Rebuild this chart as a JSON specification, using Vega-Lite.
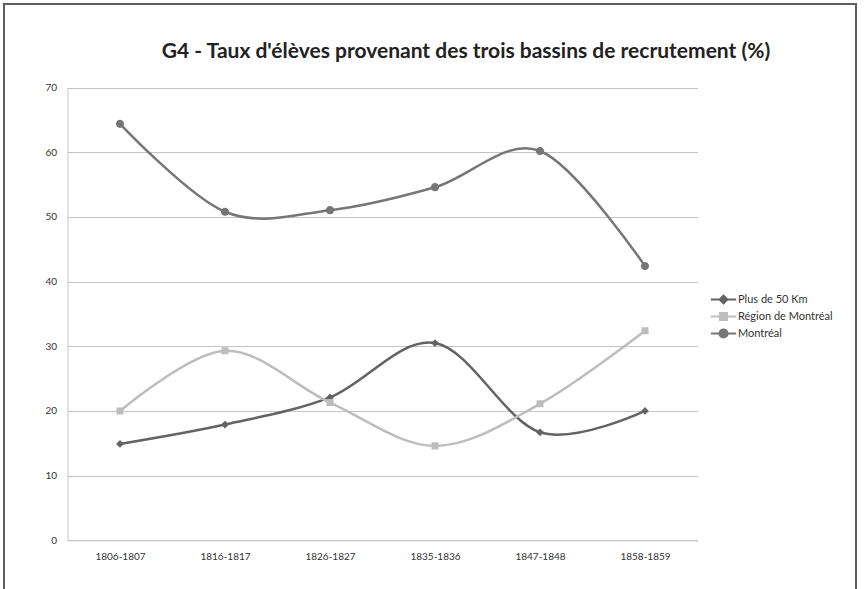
{
  "$schema": "https://vega.github.io/schema/vega-lite/v6.json",
  "width": 852,
  "height": 592,
  "autosize": {"type": "none"},
  "padding": {"left": 4, "top": 4, "right": 10, "bottom": -7},
  "background": "white",
  "config": {
    "view": {"stroke": "#5f5f5f", "strokeWidth": 2},
    "font": "Lato"
  },
  "title": {
    "text": "G4 - Taux d'élèves provenant des trois bassins de recrutement (%)",
    "font": "Lato",
    "fontSize": 21,
    "fontWeight": "bold",
    "color": "#222222",
    "anchor": "middle",
    "frame": "group",
    "dx": 36,
    "offset": -58
  },
  "data": {
    "values": [
      {"period": "1806-1807", "series": "Plus de 50 Km", "value": 14.9},
      {"period": "1816-1817", "series": "Plus de 50 Km", "value": 17.9},
      {"period": "1826-1827", "series": "Plus de 50 Km", "value": 22.1},
      {"period": "1835-1836", "series": "Plus de 50 Km", "value": 30.5},
      {"period": "1847-1848", "series": "Plus de 50 Km", "value": 16.7},
      {"period": "1858-1859", "series": "Plus de 50 Km", "value": 20.0},
      {"period": "1806-1807", "series": "Région de Montréal", "value": 20.0},
      {"period": "1816-1817", "series": "Région de Montréal", "value": 29.3},
      {"period": "1826-1827", "series": "Région de Montréal", "value": 21.3},
      {"period": "1835-1836", "series": "Région de Montréal", "value": 14.6},
      {"period": "1847-1848", "series": "Région de Montréal", "value": 21.1},
      {"period": "1858-1859", "series": "Région de Montréal", "value": 32.4},
      {"period": "1806-1807", "series": "Montréal", "value": 64.4},
      {"period": "1816-1817", "series": "Montréal", "value": 50.8},
      {"period": "1826-1827", "series": "Montréal", "value": 51.05},
      {"period": "1835-1836", "series": "Montréal", "value": 54.6},
      {"period": "1847-1848", "series": "Montréal", "value": 60.2},
      {"period": "1858-1859", "series": "Montréal", "value": 42.4}
    ]
  },
  "encoding": {
    "x": {
      "field": "period",
      "type": "ordinal",
      "sort": null,
      "scale": {"type": "point", "padding": 0.5, "range": [63.5, 693.5]},
      "axis": {
        "orient": "bottom",
        "offset": -55.7,
        "title": null,
        "labelAngle": 0,
        "ticks": false,
        "grid": false,
        "domainColor": "#c4c4c4",
        "domainWidth": 1,
        "labelPadding": 11,
        "labelFont": "Lato",
        "labelFontSize": 10,
        "labelColor": "#333333"
      }
    },
    "y": {
      "field": "value",
      "type": "quantitative",
      "scale": {"domain": [0, 70], "nice": false, "range": [536.3, 83.6]},
      "axis": {
        "orient": "left",
        "offset": -63.5,
        "title": null,
        "values": [0, 10, 20, 30, 40, 50, 60, 70],
        "ticks": false,
        "grid": true,
        "gridColor": "#c4c4c4",
        "gridWidth": 1,
        "domainColor": "#c4c4c4",
        "domainWidth": 1,
        "labelPadding": 11,
        "labelFont": "Lato",
        "labelFontSize": 10,
        "labelColor": "#333333"
      }
    },
    "color": {
      "field": "series",
      "type": "nominal",
      "scale": {
        "domain": ["Plus de 50 Km", "Région de Montréal", "Montréal"],
        "range": ["#636363", "#bdbdbd", "#767676"]
      },
      "legend": {
        "title": null,
        "orient": "none",
        "legendX": 714,
        "legendY": 290,
        "padding": 0,
        "symbolSize": 55,
        "symbolStrokeWidth": 2,
        "labelOffset": 9,
        "rowPadding": 0,
        "labelFont": "Lato",
        "labelFontSize": 11,
        "labelColor": "#333333",
        "encode": {
          "symbols": {
            "update": {
              "fill": {"scale": "color", "field": "value"},
              "stroke": {"scale": "color", "field": "value"},
              "strokeWidth": {"value": 2},
              "fillOpacity": {"value": 1},
              "opacity": {"value": 1}
            }
          }
        }
      }
    }
  },
  "layer": [
    {
      "mark": {"type": "line", "interpolate": "cardinal", "tension": 0, "strokeWidth": 2.5}
    },
    {
      "mark": {"type": "point", "filled": true, "opacity": 1, "size": 55, "strokeWidth": 0},
      "encoding": {
        "shape": {
          "field": "series",
          "type": "nominal",
          "scale": {
            "domain": ["Plus de 50 Km", "Région de Montréal", "Montréal"],
            "range": [
              "M-3.4,0H3.4M-1.05,0L0,-1.05L1.05,0L0,1.05Z",
              "M-3.4,0H3.4M-0.95,-0.95H0.95V0.95H-0.95Z",
              "M-3.4,0H3.4M-1.1,0A1.1,1.1,0,1,0,1.1,0A1.1,1.1,0,1,0,-1.1,0Z"
            ]
          },
          "legend": null
        }
      }
    }
  ]
}
